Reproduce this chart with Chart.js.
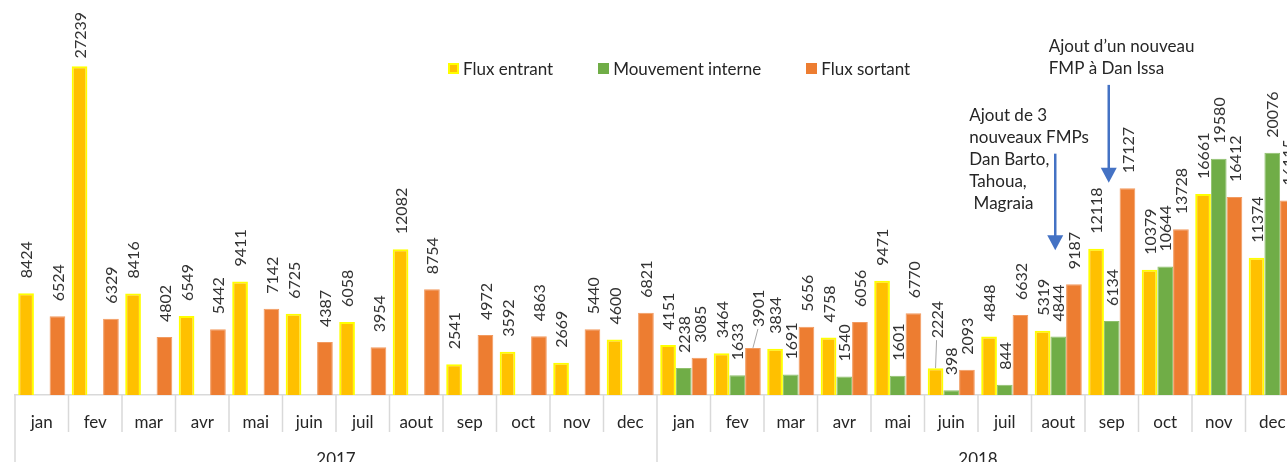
<!DOCTYPE html>
<html lang="fr">
<head>
  <meta charset="utf-8" />
  <title>Flux 2017-2018</title>
  <script src="https://cdn.jsdelivr.net/npm/chart.js@4.4.1/dist/chart.umd.min.js"></script>
  <style>
    html, body { margin: 0; padding: 0; background: #fff; overflow: hidden; }
    #wrap { position: relative; width: 1310px; height: 462px; overflow: hidden; }
    #legend { position: absolute; top: 58px; left: 448px; display: flex; font-family: Lato, sans-serif; font-size: 17px; color: #262626; }
    #legend .item { display: flex; align-items: center; margin-right: 45px; white-space: nowrap; }
    #legend .box { width: 11px; height: 11px; margin-right: 4px; box-sizing: border-box; }
  </style>
</head>
<body>
  <div id="wrap">
    <canvas id="chart" width="1310" height="480"></canvas>
    <div id="legend"></div>
  </div>
  <script>
    // axis labels
    const months = ['jan', 'fev', 'mar', 'avr', 'mai', 'juin', 'juil', 'aout', 'sep', 'oct', 'nov', 'dec',
                    'jan', 'fev', 'mar', 'avr', 'mai', 'juin', 'juil', 'aout', 'sep', 'oct', 'nov', 'dec'];
    const years = ['2017', '2018'];

    // series (2017 has no internal movement)
    const fluxEntrant = [8424, 27239, 8416, 6549, 9411, 6725, 6058, 12082, 2541, 3592, 2669, 4600,
                         4151, 3464, 3834, 4758, 9471, 2224, 4848, 5319, 12118, 10379, 16661, 11374];
    const mouvementInterne = [null, null, null, null, null, null, null, null, null, null, null, null,
                              2238, 1633, 1691, 1540, 1601, 398, 844, 4844, 6134, 10644, 19580, 20076];
    const fluxSortant = [6524, 6329, 4802, 5442, 7142, 4387, 3954, 8754, 4972, 4863, 5440, 6821,
                         3085, 3901, 5656, 6056, 6770, 2093, 6632, 9187, 17127, 13728, 16412, 16115];

    // notes with arrows (month index, arrow from / to value)
    const notes = [
      { index: 19, from: 20000, to: 12000, lines: ['Ajout de 3', 'nouveaux FMPs', 'Dan Barto,', 'Tahoua,', ' Magraia'], dx: -86 },
      { index: 20, from: 25700, to: 17600, lines: ['Ajout d\u2019un nouveau', 'FMP \u00e0 Dan Issa'], dx: -60 }
    ];

    // labels moved away from their bar, with a leader line (dataset, index, lift, shift)
    const movedLabels = [
      { ds: 2, i: 13, lift: 6, shift: 5 },
      { ds: 0, i: 17, lift: 15, shift: 1 }
    ];

    const gridGrey = '#d9d9d9';

    // rotated value labels above each bar
    const valueLabels = {
      id: 'valueLabels',
      afterDatasetsDraw(chart) {
        const ctx = chart.ctx;
        ctx.save();
        ctx.font = '16px Lato';
        ctx.textAlign = 'left';
        ctx.textBaseline = 'middle';
        chart.data.datasets.forEach((ds, i) => {
          const meta = chart.getDatasetMeta(i);
          meta.data.forEach((bar, j) => {
            const v = ds.data[j];
            if (v === null) return;
            const txt = String(v);
            const w = ctx.measureText(txt).width;
            const mv = movedLabels.find(m => m.ds === i && m.i === j);
            let start = bar.y - 15 - (mv ? mv.lift : 0);
            if (start - w < 12) start = 12 + w;
            const x = bar.x + 1 + (mv ? mv.shift : 0);
            if (mv) {
              ctx.strokeStyle = '#a6a6a6';
              ctx.lineWidth = 1;
              ctx.beginPath();
              ctx.moveTo(bar.x, bar.y);
              ctx.lineTo(x - 1, start + 2);
              ctx.stroke();
            }
            ctx.save();
            ctx.fillStyle = '#333333';
            ctx.translate(x, start);
            ctx.rotate(-Math.PI / 2);
            ctx.fillText(txt, 0, 0);
            ctx.restore();
          });
        });
        ctx.restore();
      }
    };

    // month / year separators of the two-level category axis
    const separators = {
      id: 'separators',
      afterDraw(chart) {
        const ctx = chart.ctx;
        const xs = chart.scales.x;
        const step = xs.getPixelForValue(1) - xs.getPixelForValue(0);
        const first = xs.getPixelForValue(0) - step / 2;
        const perYear = months.length / years.length;
        ctx.save();
        ctx.strokeStyle = gridGrey;
        ctx.lineWidth = 1.5;
        ctx.beginPath();
        for (let i = 0; i <= months.length; i++) {
          const x = first + i * step;
          ctx.moveTo(x, xs.top);
          ctx.lineTo(x, i % perYear === 0 ? chart.height : xs.top + 37);
        }
        ctx.stroke();
        ctx.restore();
      }
    };

    const arrowNotes = {
      id: 'arrowNotes',
      afterDraw(chart) {
        const ctx = chart.ctx;
        const xs = chart.scales.x, ys = chart.scales.y;
        ctx.save();
        notes.forEach(n => {
          const x = xs.getPixelForValue(n.index) - 3;
          const y0 = ys.getPixelForValue(n.from);
          const y1 = ys.getPixelForValue(n.to);
          ctx.strokeStyle = '#4472c4';
          ctx.fillStyle = '#4472c4';
          ctx.lineWidth = 2.5;
          ctx.beginPath();
          ctx.moveTo(x, y0);
          ctx.lineTo(x, y1 - 12);
          ctx.stroke();
          ctx.beginPath();
          ctx.moveTo(x - 8, y1 - 15);
          ctx.lineTo(x + 8, y1 - 15);
          ctx.lineTo(x, y1);
          ctx.closePath();
          ctx.fill();
          ctx.fillStyle = '#262626';
          ctx.font = '17px Lato';
          ctx.textAlign = 'left';
          ctx.textBaseline = 'middle';
          n.lines.forEach((l, k) => {
            ctx.fillText(l, x + n.dx, y0 - 38 + k * 22);
          });
        });
        ctx.restore();
      }
    };

    const chart = new Chart(document.getElementById('chart'), {
      type: 'bar',
      data: {
        labels: months,
        datasets: [
          { label: 'Flux entrant', data: fluxEntrant, backgroundColor: '#ffc000', borderColor: '#ffff00', borderWidth: 2, xAxisID: 'x' },
          { label: 'Mouvement interne', data: mouvementInterne, backgroundColor: '#70ad47', borderColor: '#8fc06c', borderWidth: 1, xAxisID: 'x' },
          { label: 'Flux sortant', data: fluxSortant, backgroundColor: '#ed7d31', borderColor: '#f29a5f', borderWidth: 1, xAxisID: 'x' }
        ]
      },
      options: {
        responsive: false,
        animation: false,
        layout: { padding: { top: 33, left: 15, right: 11, bottom: 12.6 } },
        plugins: { legend: { display: false }, tooltip: { enabled: false } },
        datasets: { bar: { categoryPercentage: 0.88, barPercentage: 1 } },
        scales: {
          y: { display: false, min: 0, max: 30000 },
          x: {
            weight: 0,
            offset: true,
            grid: { display: false },
            border: { display: true, color: gridGrey, width: 1.5 },
            ticks: { autoSkip: false, maxRotation: 0, padding: 9.8, color: '#262626', font: { family: 'Lato', size: 17 } }
          },
          years: {
            type: 'category',
            position: 'bottom',
            labels: years,
            weight: 1,
            offset: true,
            grid: { display: false },
            border: { display: false },
            ticks: { autoSkip: false, maxRotation: 0, padding: -2, color: '#262626', font: { family: 'Lato', size: 17 } }
          }
        }
      },
      plugins: [valueLabels, separators, arrowNotes]
    });

    // html legend built from the datasets
    const legend = document.getElementById('legend');
    chart.data.datasets.forEach(ds => {
      const item = document.createElement('div');
      item.className = 'item';
      const box = document.createElement('span');
      box.className = 'box';
      box.style.background = ds.backgroundColor;
      if (ds.borderWidth === 2) box.style.border = '2px solid ' + ds.borderColor;
      const txt = document.createElement('span');
      txt.textContent = ds.label;
      item.appendChild(box);
      item.appendChild(txt);
      legend.appendChild(item);
    });
  </script>
</body>
</html>
